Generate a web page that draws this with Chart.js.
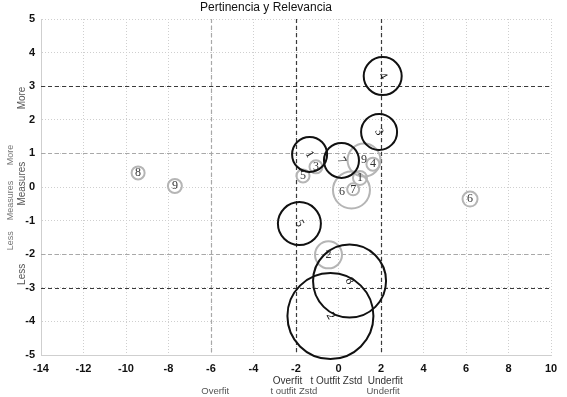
<!DOCTYPE html>
<html><head><meta charset="utf-8">
<script src="https://cdn.jsdelivr.net/npm/chart.js@4"></script>
<style>html,body{margin:0;padding:0;background:#fff}#wrap{width:567px;height:397px;position:relative}</style>
</head><body><div id="wrap"><canvas id="c"></canvas></div>
<script>
const chartTitle = 'Pertinencia y Relevancia';
const xTickValues = [-14,-12,-10,-8,-6,-4,-2,0,2,4,6,8,10];
const yTickValues = [-5,-4,-3,-2,-1,0,1,2,3,4,5];

// black (outlined) bubbles
const blackLabels = ['4','3','1','7','5','8','2'];
const blackX = [2.08, 1.91, -1.36, 0.14, -1.84, 0.52, -0.38];
const blackY = [3.30, 1.64, 0.97, 0.79, -1.09, -2.80, -3.84];
const blackR = [19, 18, 17.5, 17.5, 21.5, 36.5, 43];

// grey bubbles
const greyLabels = ['9','4','1','7','','6','5','3','2','8','9','6'];
const greyX = [1.20, 1.62, 1.01, 0.69, 0.61, 0.16, -1.67, -1.06, -0.47, -9.43, -7.70, 6.19];
const greyY = [0.80, 0.68, 0.27, -0.07, -0.09, -0.15, 0.33, 0.60, -2.02, 0.42, 0.03, -0.36];
const greyR = [16.5, 6.5, 7, 6, 18.5, 0, 6.5, 6.5, 13.5, 6.5, 7, 7.5];

// reference lines
const darkLinesX = [-2, 2];
const darkLinesY = [3, -3];
const greyLinesX = [-6];
const greyLinesY = [1, -2];

// axis annotation texts
const leftTitlesBig = ['More','Measures','Less'];
const leftTitlesBigAt = [2.65, 0.1, -2.6];
const leftTitlesSmall = ['More','Measures','Less'];
const leftTitlesSmallAt = [0.95, -0.4, -1.6];
const bottomRow1 = ['Overfit','t Outfit Zstd','Underfit'];
const bottomRow1At = [-2.4, -0.1, 2.2];
const bottomRow2 = ['Overfit','t outfit Zstd','Underfit'];
const bottomRow2At = [-5.8, -2.1, 2.1];

function pts(xs, ys, rs){ return xs.map((x,i)=>({x:x, y:ys[i], r:rs[i]})); }

const refLines = {
  id:'refLines',
  beforeDatasetsDraw(chart){
    const {ctx, chartArea:a, scales:{x, y}} = chart;
    ctx.save();
    ctx.lineWidth = 1.2;
    ctx.setLineDash([4,3]);
    ctx.strokeStyle = '#a8a8a8';
    greyLinesX.forEach(v=>{const p=Math.round(x.getPixelForValue(v))+0.5;ctx.beginPath();ctx.moveTo(p,a.top);ctx.lineTo(p,a.bottom);ctx.stroke();});
    greyLinesY.forEach(v=>{const p=Math.round(y.getPixelForValue(v))+0.5;ctx.beginPath();ctx.moveTo(a.left,p);ctx.lineTo(a.right,p);ctx.stroke();});
    ctx.strokeStyle = '#3a3a3a';
    darkLinesX.forEach(v=>{const p=Math.round(x.getPixelForValue(v))+0.5;ctx.beginPath();ctx.moveTo(p,a.top);ctx.lineTo(p,a.bottom);ctx.stroke();});
    darkLinesY.forEach(v=>{const p=Math.round(y.getPixelForValue(v))+0.5;ctx.beginPath();ctx.moveTo(a.left,p);ctx.lineTo(a.right,p);ctx.stroke();});
    ctx.restore();
  }
};

const textsPlugin = {
  id:'texts',
  afterDatasetsDraw(chart){
    const {ctx, scales:{x, y}} = chart;
    ctx.save();
    const labelSets = [blackLabels, greyLabels];
    chart.data.datasets.forEach((ds,i)=>{
      const meta = chart.getDatasetMeta(i);
      meta.data.forEach((el,j)=>{
        const t = labelSets[i][j];
        if(!t) return;
        ctx.save();
        ctx.translate(el.x, el.y);
        if(i===0){ ctx.rotate(60*Math.PI/180); ctx.fillStyle='#111'; ctx.font='12px "Liberation Serif"'; }
        else { ctx.fillStyle='#333'; ctx.font='12px "Liberation Serif"'; }
        ctx.textAlign='center'; ctx.textBaseline='middle';
        ctx.fillText(t,0,0);
        ctx.restore();
      });
    });
    ctx.fillStyle='#111';
    ctx.font='12px "Liberation Sans"';
    ctx.textAlign='center'; ctx.textBaseline='middle';
    ctx.fillText(chartTitle, 266, 8);
    ctx.fillStyle='#555';
    ctx.font='10px "Liberation Sans"';
    leftTitlesBig.forEach((t,i)=>{ctx.save();ctx.translate(22,y.getPixelForValue(leftTitlesBigAt[i]));ctx.rotate(-Math.PI/2);ctx.fillText(t,0,0);ctx.restore();});
    ctx.fillStyle='#777';
    ctx.font='9px "Liberation Sans"';
    leftTitlesSmall.forEach((t,i)=>{ctx.save();ctx.translate(11,y.getPixelForValue(leftTitlesSmallAt[i]));ctx.rotate(-Math.PI/2);ctx.fillText(t,0,0);ctx.restore();});
    ctx.fillStyle='#333';
    ctx.font='10px "Liberation Sans"';
    bottomRow1.forEach((t,i)=>ctx.fillText(t, x.getPixelForValue(bottomRow1At[i]), 381));
    ctx.fillStyle='#555';
    ctx.font='9.5px "Liberation Sans"';
    bottomRow2.forEach((t,i)=>ctx.fillText(t, x.getPixelForValue(bottomRow2At[i]), 391));
    ctx.restore();
  }
};

const gridOpts = {color:'#cfcfcf', lineWidth:1, drawTicks:false};
new Chart(document.getElementById('c'), {
  type:'bubble',
  data:{datasets:[
    {data:pts(blackX,blackY,blackR), borderColor:'#111', backgroundColor:'rgba(0,0,0,0)', borderWidth:2, clip:false},
    {data:pts(greyX,greyY,greyR), borderColor:'#b5b5b5', backgroundColor:'rgba(0,0,0,0)', borderWidth:2, clip:false}
  ]},
  options:{
    responsive:true, maintainAspectRatio:false, animation:false, devicePixelRatio:1,
    layout:{autoPadding:false, padding:{top:19, right:16, left:0, bottom:0}},
    plugins:{legend:{display:false}, tooltip:{enabled:false}, title:{display:false}},
    scales:{
      x:{type:'linear', min:-14, max:10,
        afterBuildTicks(s){ s.ticks = xTickValues.map(v=>({value:v})); },
        afterFit(s){ s.height = 42; },
        grid:gridOpts, border:{display:true, color:'#cfcfcf', dash:[1,2]},
        ticks:{padding:7, color:'#111', font:{family:'Liberation Sans', size:11, weight:'bold'}, maxRotation:0}
      },
      y:{type:'linear', min:-5, max:5,
        afterBuildTicks(s){ s.ticks = yTickValues.map(v=>({value:v})); },
        afterFit(s){ s.width = 41; },
        grid:gridOpts, border:{display:true, color:'#cfcfcf', dash:[1,2]},
        ticks:{padding:6, color:'#111', font:{family:'Liberation Sans', size:11, weight:'bold'}}
      }
    }
  },
  plugins:[refLines, textsPlugin]
});
</script></body></html>
